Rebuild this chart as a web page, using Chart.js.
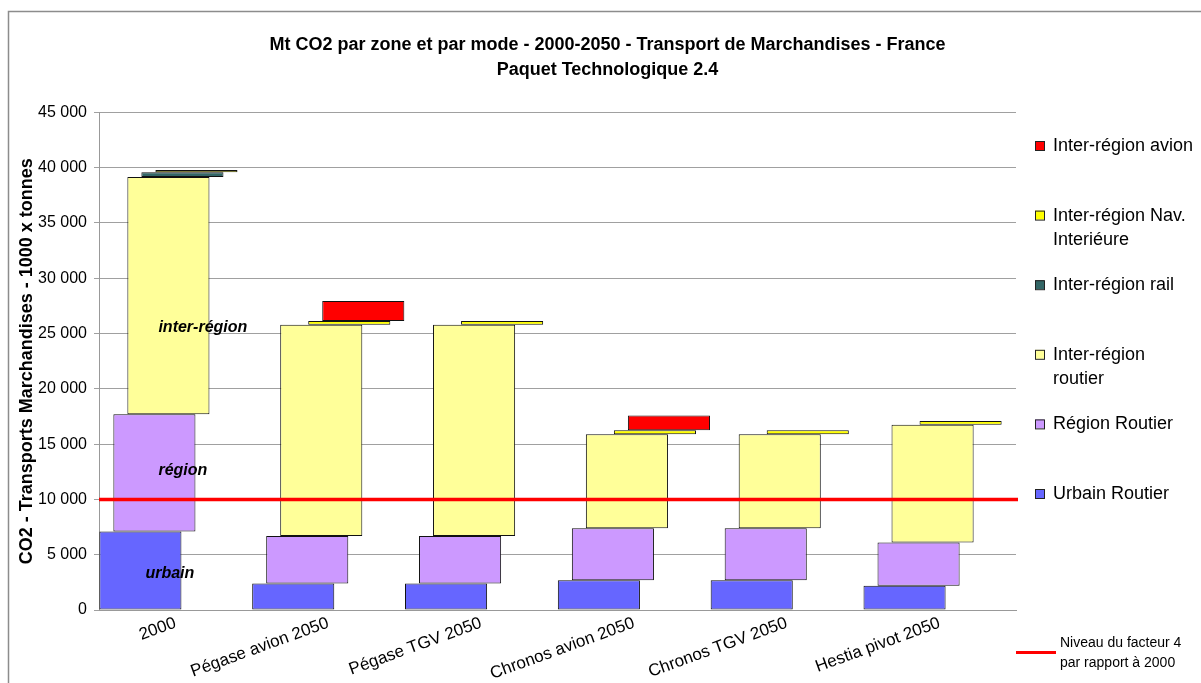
<!DOCTYPE html>
<html lang="fr">
<head>
    <meta charset="UTF-8">
    <title>Mt CO2 par zone et par mode - Transport de Marchandises</title>
    <script src="https://cdn.jsdelivr.net/npm/chart.js"></script>
    <style>
        html, body { margin: 0; padding: 0; background: #fff; }
        #wrap { width: 1201px; height: 683px; position: relative; }
    </style>
</head>
<body>
    <div id="wrap"><canvas id="co2Chart" width="1201" height="683"></canvas></div>

    <script>
        // Scénarios (axe des x)
        const CATEGORIES = ['2000', 'Pégase avion 2050', 'Pégase TGV 2050', 'Chronos avion 2050', 'Chronos TGV 2050', 'Hestia pivot 2050'];

        // Niveaux cumulés (haut de chaque tranche), 1000 x tonnes
        const URBAIN_ROUTIER = [7100, 2400, 2400, 2700, 2700, 2200];
        const REGION_ROUTIER = [17700, 6700, 6700, 7400, 7400, 6100];
        const INTER_ROUTIER = [39150, 25800, 25800, 15900, 15900, 16750];
        const INTER_RAIL = [39580, null, null, null, null, null];
        const INTER_NAV = [39800, 26130, 26130, 16250, 16250, 17100];
        const INTER_AVION = [null, 27950, null, 17600, null, null];

        const SERIES_NAMES = [
            ['Urbain Routier'],
            ['Région Routier'],
            ['Inter-région', 'routier'],
            ['Inter-région rail'],
            ['Inter-région Nav.', 'Interiéure'],
            ['Inter-région avion']
        ];
        const SERIES_COLORS = ['#6666FF', '#CC99FF', '#FFFF99', '#336666', '#FFFF00', '#FF0000'];

        // Niveau du facteur 4
        const FACTEUR_4 = 10000;
        const FACTEUR_4_LABEL = ['Niveau du facteur 4', 'par rapport à 2000'];

        // Etiquettes dans la barre 2000
        const ZONE_LABELS = ['inter-région', 'région', 'urbain'];
        const ZONE_LABEL_VALUES = [25500, 12600, 3250];

        const Y_TICKS_MAX = 45000;

        // barres flottantes : chaque tranche part du niveau précédent
        const levels = [URBAIN_ROUTIER, REGION_ROUTIER, INTER_ROUTIER, INTER_RAIL, INTER_NAV, INTER_AVION];
        const datasets = levels.map((serie, s) => ({
            label: SERIES_NAMES[s].join(' '),
            data: serie.map((top, i) => {
                if (top === null) return null;
                let base = 0;
                for (let k = s - 1; k >= 0; k--) {
                    if (levels[k][i] !== null) { base = levels[k][i]; break; }
                }
                return [base, top];
            }),
            backgroundColor: SERIES_COLORS[s],
            borderColor: '#111',
            borderWidth: 1,
            borderSkipped: false,
            categoryPercentage: 0.55,
            barPercentage: 5.86
        }));

        const fmt = v => String(v).replace(/\B(?=(\d{3})+(?!\d))/g, ' ');
        const FONT = 'Liberation Sans, Arial, sans-serif';

        // cadre, ligne facteur 4, étiquettes, légende
        const decorPlugin = {
            id: 'decor',
            beforeDraw(chart) {
                const ctx = chart.ctx;
                ctx.save();
                ctx.strokeStyle = '#8c8c8c';
                ctx.lineWidth = 1.5;
                ctx.strokeRect(8.5, 11.5, 1400, 900);
                ctx.restore();
            },
            afterDatasetsDraw(chart) {
                const ctx = chart.ctx;
                const {left, right} = chart.chartArea;
                const y = chart.scales.y;
                const x = chart.scales.x;
                ctx.save();
                // ligne rouge
                const py = y.getPixelForValue(FACTEUR_4);
                ctx.strokeStyle = '#FF0000';
                ctx.lineWidth = 3.5;
                ctx.beginPath();
                ctx.moveTo(left, py);
                ctx.lineTo(right + 2, py);
                ctx.stroke();

                // textes dans la barre 2000
                ctx.fillStyle = '#000';
                ctx.font = 'italic bold 16px ' + FONT;
                ctx.textBaseline = 'middle';
                ctx.textAlign = 'left';
                const cx = x.getPixelForValue(0);
                const shifts = [-17, -17, -30];
                ZONE_LABELS.forEach((t, i) => {
                    ctx.fillText(t, cx + shifts[i], y.getPixelForValue(ZONE_LABEL_VALUES[i]));
                });

                // légende
                ctx.font = '18px ' + FONT;
                let ly = 146;
                for (let s = SERIES_NAMES.length - 1; s >= 0; s--) {
                    ctx.fillStyle = SERIES_COLORS[s];
                    ctx.fillRect(1035, ly - 5, 9, 9);
                    ctx.strokeStyle = '#222';
                    ctx.lineWidth = 1;
                    ctx.strokeRect(1035.5, ly - 4.5, 9, 9);
                    ctx.fillStyle = '#000';
                    SERIES_NAMES[s].forEach((line, k) => ctx.fillText(line, 1053, ly + k * 24));
                    ly += 69.6;
                }
                ctx.strokeStyle = '#FF0000';
                ctx.lineWidth = 3;
                ctx.beginPath();
                ctx.moveTo(1016, 652.5);
                ctx.lineTo(1056, 652.5);
                ctx.stroke();
                ctx.font = '14px ' + FONT;
                FACTEUR_4_LABEL.forEach((line, k) => ctx.fillText(line, 1060, 643 + k * 20));
                ctx.restore();
            }
        };

        new Chart(document.getElementById('co2Chart'), {
            type: 'bar',
            data: { labels: CATEGORIES, datasets: datasets },
            options: {
                responsive: false,
                animation: false,
                layout: { padding: { left: 14, right: 0, top: 0, bottom: 0 } },
                plugins: {
                    legend: { display: false },
                    tooltip: { enabled: false },
                    title: {
                        display: true,
                        text: ['Mt CO2 par zone et par mode - 2000-2050 - Transport de Marchandises - France', 'Paquet Technologique 2.4'],
                        color: '#000',
                        font: { family: FONT, size: 18, weight: 'bold', lineHeight: 1.4 },
                        padding: { top: 32, bottom: 30 }
                    }
                },
                scales: {
                    x: {
                        grid: { display: false },
                        border: { display: true, color: '#999' },
                        ticks: {
                            color: '#000',
                            font: { family: FONT, size: 17 },
                            minRotation: 20,
                            maxRotation: 20,
                            padding: -5
                        },
                        afterFit(scale) { scale.height = 73; }
                    },
                    y: {
                        min: 0,
                        max: Y_TICKS_MAX,
                        ticks: {
                            stepSize: 5000,
                            color: '#000',
                            font: { family: FONT, size: 16 },
                            padding: 7,
                            callback: v => fmt(v)
                        },
                        grid: { color: '#a0a0a0', tickLength: 5 },
                        border: { display: true, color: '#999' },
                        title: {
                            display: true,
                            text: 'CO2 - Transports Marchandises - 1000 x tonnes',
                            color: '#000',
                            font: { family: FONT, size: 18, weight: 'bold' },
                            padding: { top: 2, bottom: 0 }
                        },
                        afterFit(scale) { scale.width = 85; }
                    },
                    // place réservée à la légende (à droite)
                    yLegend: {
                        position: 'right',
                        display: true,
                        ticks: { display: false },
                        grid: { display: false },
                        border: { display: false },
                        afterFit(scale) { scale.width = 185; }
                    }
                }
            },
            plugins: [decorPlugin]
        });
    </script>
</body>
</html>
